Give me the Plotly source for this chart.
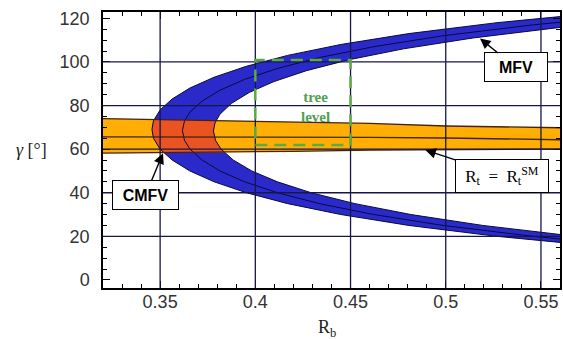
import numpy as np
import plotly.graph_objects as go

# ---------------- data ----------------
# MFV (blue) band: R_b values read at given gamma [deg]
outer_gamma = [16, 20, 25, 30, 35, 40, 45, 50, 55, 60, 65, 69, 73, 78, 83, 88, 93, 98, 103, 108, 113, 118, 122]
outer_rb = [0.5744, 0.5269, 0.4806, 0.4449, 0.4170, 0.3953, 0.3784, 0.3656, 0.3563, 0.3500, 0.3465, 0.3457,
            0.3465, 0.3500, 0.3563, 0.3656, 0.3784, 0.3953, 0.4170, 0.4449, 0.4806, 0.5269, 0.5744]

center_gamma = [17, 20, 25, 30, 35, 40, 45, 50, 55, 60, 64, 68.5, 73, 77, 82, 87, 92, 97, 102, 107, 112, 117, 121]
center_rb = [0.5810, 0.5459, 0.4986, 0.4622, 0.4337, 0.4116, 0.3944, 0.3814, 0.3720, 0.3657, 0.3628, 0.3617,
             0.3628, 0.3657, 0.3720, 0.3814, 0.3944, 0.4116, 0.4337, 0.4622, 0.4986, 0.5459, 0.5941]

inner_gamma = [20, 25, 30, 35, 40, 45, 50, 55, 60, 64, 68.3, 72, 76, 81, 86, 91, 96, 101, 106, 111, 116, 120]
inner_rb = [0.5683, 0.5194, 0.4817, 0.4523, 0.4293, 0.4116, 0.3981, 0.3884, 0.3820, 0.3791, 0.3780,
            0.3788, 0.3814, 0.3875, 0.3968, 0.4098, 0.4269, 0.4492, 0.4778, 0.5144, 0.5617, 0.6099]

# R_t = R_t^SM (orange) band
orange_rb = [0.32, 0.37, 0.42, 0.46, 0.50, 0.56]
orange_top = [74.0, 73.3, 72.6, 71.8, 70.6, 69.8]
orange_mid = [65.6, 65.6, 65.5, 65.4, 65.1, 64.3]
orange_bot = [58.2, 58.5, 59.0, 59.5, 59.8, 60.0]

# tree level box
tree_rb = [0.40, 0.45]
tree_gamma = [61.9, 100.9]

# axes
x_ticks = [0.35, 0.40, 0.45, 0.50, 0.55]
x_ticklabels = ["0.35", "0.4", "0.45", "0.5", "0.55"]
y_ticks = [0, 20, 40, 60, 80, 100, 120]
y_ticklabels = ["0", "20", "40", "60", "80", "100", "120"]
grid_x = [0.35, 0.40, 0.45, 0.50, 0.55]
grid_y = [20, 40, 60, 80, 100]

# ---------------- styles ----------------
BLUE = "rgb(42,42,202)"
ORANGE = "rgb(255,174,6)"
RED = "rgb(234,84,34)"
NAVY = "rgb(10,10,60)"
BROWN = "rgb(70,35,5)"
GRID = "rgb(22,22,75)"
GREEN = "rgb(90,170,70)"

fig = go.Figure()

# orange band fill
fig.add_trace(go.Scatter(
    x=orange_rb + orange_rb[::-1], y=orange_top + orange_bot[::-1],
    fill="toself", fillcolor=ORANGE, mode="lines", line=dict(width=0),
    hoverinfo="skip", showlegend=False))

# blue band fill
fig.add_trace(go.Scatter(
    x=outer_rb + inner_rb[::-1], y=outer_gamma + inner_gamma[::-1],
    fill="toself", fillcolor=BLUE, mode="lines", line=dict(width=0),
    hoverinfo="skip", showlegend=False))

# red overlap region (blue band clipped to orange band)
vertex_rb = 0.362
g_lo = float(np.interp(vertex_rb, orange_rb, orange_bot))
g_hi = float(np.interp(vertex_rb, orange_rb, orange_top))


def clip_curve(g_arr, r_arr, lo, hi):
    g = np.array(g_arr, dtype=float)
    r = np.array(r_arr, dtype=float)
    inside = (g > lo) & (g < hi)
    gs = np.concatenate([[lo], g[inside], [hi]])
    rs = np.interp(gs, g, r)
    return list(rs), list(gs)


ro, go_ = clip_curve(outer_gamma, outer_rb, g_lo, g_hi)
ri, gi = clip_curve(inner_gamma, inner_rb, g_lo, g_hi)
fig.add_trace(go.Scatter(
    x=ro + ri[::-1], y=go_ + gi[::-1],
    fill="toself", fillcolor=RED, mode="lines", line=dict(width=0),
    hoverinfo="skip", showlegend=False))

# blue band outlines and centre line
for gx, rx in [(outer_gamma, outer_rb), (inner_gamma, inner_rb), (center_gamma, center_rb)]:
    fig.add_trace(go.Scatter(x=rx, y=gx, mode="lines", line=dict(color=NAVY, width=1),
                             hoverinfo="skip", showlegend=False))

# orange band outlines and centre line
for gy in [orange_top, orange_mid, orange_bot]:
    fig.add_trace(go.Scatter(x=orange_rb, y=gy, mode="lines", line=dict(color=BROWN, width=1.3),
                             hoverinfo="skip", showlegend=False))

# grid lines above the bands
shapes = []
for gx in grid_x:
    shapes.append(dict(type="line", xref="x", yref="paper", x0=gx, x1=gx, y0=0, y1=1,
                       line=dict(color=GRID, width=1.3), layer="above"))
for gy in grid_y:
    shapes.append(dict(type="line", xref="paper", yref="y", x0=0, x1=1, y0=gy, y1=gy,
                       line=dict(color=GRID, width=1.3), layer="above"))
# tree level dashed box
shapes.append(dict(type="rect", xref="x", yref="y", x0=tree_rb[0], x1=tree_rb[1],
                   y0=tree_gamma[0], y1=tree_gamma[1],
                   line=dict(color=GREEN, width=2.5, dash="12px,7px"), layer="above"))

annotations = [
    dict(x=0.518, y=110.8, ax=0.5367, ay=97.45, axref="x", ayref="y", xref="x", yref="y",
         text="<b>MFV</b>", showarrow=True, arrowhead=2, arrowsize=1.5, arrowwidth=1.4,
         arrowcolor="black", bgcolor="white", bordercolor="black", borderwidth=1,
         borderpad=3, width=56, height=22,
         font=dict(family="Liberation Sans", size=16, color="black")),
    dict(x=0.4893, y=59.6, ax=0.5298, ay=47.9, axref="x", ayref="y", xref="x", yref="y",
         text="R<sub>t</sub>  =  R<sub>t</sub><sup>SM</sup>", showarrow=True, arrowhead=2,
         arrowsize=1.5, arrowwidth=1.4, arrowcolor="black", bgcolor="white",
         bordercolor="black", borderwidth=1, borderpad=3, width=86, height=26,
         font=dict(family="Liberation Serif", size=17, color="black")),
    dict(x=0.3515, y=58.1, ax=0.3424, ay=39.05, axref="x", ayref="y", xref="x", yref="y",
         text="<b>CMFV</b>", showarrow=True, arrowhead=2, arrowsize=1.5, arrowwidth=1.4,
         arrowcolor="black", bgcolor="white", bordercolor="black", borderwidth=1,
         borderpad=3, width=59, height=22,
         font=dict(family="Liberation Sans", size=16, color="black")),
    dict(x=0.4317, y=79.5, xref="x", yref="y", text="<b>tree<br>level</b>", showarrow=False,
         font=dict(family="Liberation Serif", size=15, color="rgb(80,160,80)")),
    dict(x=-0.157, y=0.5, xref="paper", yref="paper", xanchor="center", yanchor="middle",
         text="<i>γ</i> [°]", showarrow=False,
         font=dict(family="Liberation Serif", size=18, color="#222")),
    dict(x=0.49, y=-0.145, xref="paper", yref="paper", xanchor="center", yanchor="middle",
         text="R<sub>b</sub>", showarrow=False,
         font=dict(family="Liberation Serif", size=18, color="#222")),
]

fig.update_layout(
    width=563, height=339,
    margin=dict(l=103, r=1, t=12, b=51),
    paper_bgcolor="white", plot_bgcolor="white",
    shapes=shapes, annotations=annotations, showlegend=False,
    xaxis=dict(range=[0.32, 0.56], tickmode="array", tickvals=x_ticks, ticktext=x_ticklabels,
               ticks="inside", ticklen=7, tickwidth=1, tickcolor="black",
               showline=True, linecolor="black", linewidth=1.5, mirror="ticks",
               showgrid=False, zeroline=False, ticklabelstandoff=-3,
               tickfont=dict(family="Liberation Sans", size=18, color="#333"),
               minor=dict(tickmode="linear", tick0=0.35, dtick=0.01, ticks="inside",
                          ticklen=4, tickcolor="black", showgrid=False)),
    yaxis=dict(range=[-3.7, 122.9], tickmode="array", tickvals=y_ticks, ticktext=y_ticklabels,
               ticks="inside", ticklen=7, tickwidth=1, tickcolor="black",
               showline=True, linecolor="black", linewidth=1.5, mirror="ticks",
               showgrid=False, zeroline=False, ticklabelstandoff=8,
               tickfont=dict(family="Liberation Sans", size=18, color="#333"),
               minor=dict(tickmode="linear", tick0=0, dtick=5, ticks="inside",
                          ticklen=4, tickcolor="black", showgrid=False)),
)

fig.write_html("out.html")
